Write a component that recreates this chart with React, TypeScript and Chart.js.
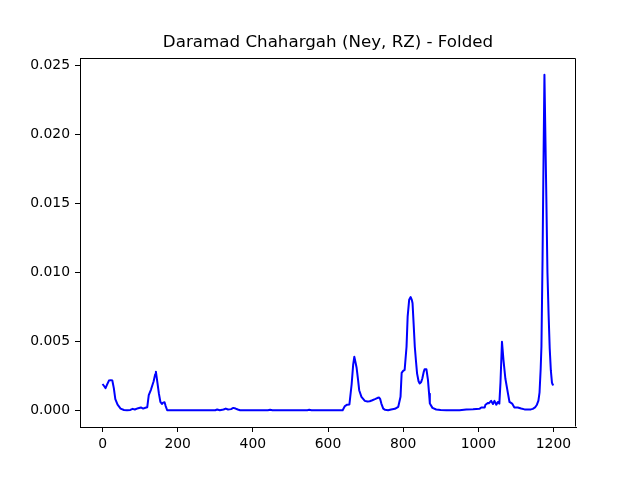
import React, { useEffect, useRef } from "react";
import { Chart, registerables } from "chart.js";

Chart.register(...registerables);

const TITLE = "Daramad Chahargah (Ney, RZ) - Folded";

const xValues: number[] = [
  0, 5, 8, 12, 17, 22, 26, 30, 34, 40, 48, 57, 65, 74, 80, 86, 95, 102, 108, 114, 119,
  123, 129, 136, 140, 142, 146, 150, 154, 158, 161, 165, 168, 172,
  200, 250, 300, 305, 312, 322, 328, 334, 342, 348, 354, 360, 366,
  400, 440, 446, 452, 500, 545, 550, 556, 600, 639,
  645, 651, 657, 663, 667, 670, 673, 676, 680, 683, 689, 698, 705, 711, 718, 725, 731, 736,
  739, 742, 747, 752, 760, 768, 778, 787, 793, 796, 800, 804, 809, 812, 816, 820, 823, 825,
  828, 831, 834, 837, 841, 844, 848, 851, 855, 857, 862, 866, 869, 871, 878, 888, 900, 915,
  930, 950, 968, 986, 1003, 1008, 1017, 1019, 1026, 1028, 1034, 1039, 1043, 1048, 1052, 1056,
  1059, 1063, 1067, 1072, 1079, 1083, 1090, 1096, 1105, 1114, 1123, 1132, 1140, 1145, 1151,
  1156, 1160, 1163, 1166, 1168, 1171, 1173, 1176, 1181, 1184, 1187, 1190, 1193, 1196,
  1198, 1200,
];

const yValues: number[] = [
  0.0019, 0.00172, 0.0016, 0.00185, 0.00215, 0.00218, 0.00215, 0.0016, 0.0008, 0.0004, 0.00012,
  0.00002, 0.0, 0.00002, 0.0001, 0.00005, 0.00015, 0.0002, 0.00012, 0.00018, 0.00022,
  0.0011, 0.0015, 0.0021, 0.0026, 0.00279, 0.002, 0.0012, 0.0006, 0.00045, 0.00055, 0.00058,
  0.0003, 0.0,
  0.0, 0.0, 0.0, 0.00005, 0.0, 0.00005, 0.00012, 0.00005, 0.00008, 0.00017, 0.00012, 0.00005,
  0.0,
  0.0, 0.0, 0.00003, 0.0, 0.0, 0.0, 0.00003, 0.0, 0.0, 0.0,
  0.0003, 0.0004, 0.00042, 0.0019, 0.0033, 0.00387, 0.0035, 0.0031, 0.0022, 0.00145, 0.00097,
  0.00068, 0.00063, 0.00065, 0.00072, 0.0008, 0.00088, 0.00092,
  0.0008, 0.00048, 0.00012, 0.00003, 0.0, 0.00005, 0.0001, 0.00025, 0.00097, 0.0027, 0.00285,
  0.00292, 0.0046, 0.0068, 0.008, 0.0082, 0.008, 0.00775,
  0.0062, 0.0046, 0.0036, 0.00267, 0.0021, 0.00194, 0.00205, 0.0023, 0.0028, 0.00296, 0.00296,
  0.0022, 0.0012, 0.00049, 0.00017, 0.00005, 0.00002, 0.0,
  0.0, 0.0, 0.00005, 0.00007, 0.0001, 0.0002, 0.0002, 0.0004, 0.00053, 0.0005, 0.00068,
  0.00045, 0.00068, 0.0004, 0.0006, 0.00048,
  0.002, 0.00496, 0.00363, 0.0023, 0.0012, 0.0006, 0.00048, 0.0002, 0.0002, 0.00012, 0.00006,
  0.00005, 0.00006, 0.0001, 0.0002,
  0.0004, 0.0007, 0.0013, 0.003, 0.0046, 0.011, 0.0167, 0.0243, 0.0155, 0.01, 0.007,
  0.0045, 0.0029, 0.002,
  0.00185, 0.0019,
];

const xTicks: number[] = [0, 200, 400, 600, 800, 1000, 1200];
const yTicks: number[] = [0, 0.005, 0.01, 0.015, 0.02, 0.025];

const FONT = "'DejaVu Sans', sans-serif";

const frame = {
  id: "frame",
  afterDraw(chart: any) {
    const { ctx, chartArea } = chart;
    const l = Math.round(chartArea.left) + 0.5;
    const t = Math.round(chartArea.top) + 0.5;
    const r = Math.round(chartArea.right) - 0.5;
    const b = Math.round(chartArea.bottom) - 0.5;
    ctx.save();
    ctx.strokeStyle = "#000";
    ctx.lineWidth = 1;
    ctx.beginPath();
    ctx.moveTo(l, t);
    ctx.lineTo(r, t);
    ctx.lineTo(r, b);
    ctx.stroke();
    ctx.restore();
  },
};

export default function App() {
  const ref = useRef<HTMLCanvasElement>(null);

  useEffect(() => {
    document.body.style.margin = "0";
    const chart = new Chart(ref.current as HTMLCanvasElement, {
      type: "line",
      data: {
        datasets: [
          {
            data: xValues.map((x, i) => ({ x, y: yValues[i] })),
            borderColor: "#0000ff",
            borderWidth: 2,
            borderJoinStyle: "round",
            borderCapStyle: "butt",
            pointRadius: 0,
            fill: false,
            tension: 0,
          },
        ],
      },
      options: {
        animation: false,
        responsive: false,
        devicePixelRatio: 1,
        layout: { padding: { left: 0, right: 64, top: 0, bottom: 0 }, autoPadding: false },
        plugins: {
          legend: { display: false },
          tooltip: { enabled: false },
          title: {
            display: true,
            text: TITLE,
            fullSize: false,
            color: "#000",
            font: { family: FONT, size: 16.7, weight: "normal" },
            padding: { top: 33, bottom: 5 },
          },
        },
        scales: {
          x: {
            type: "linear",
            min: -60,
            max: 1260,
            afterBuildTicks: (s: any) => {
              s.ticks = xTicks.map((v) => ({ value: v }));
            },
            afterFit: (s: any) => {
              s.height = 53;
            },
            grid: { display: true, drawOnChartArea: false, drawTicks: true, tickLength: 5, color: "#000" },
            border: { display: true, color: "#000" },
            ticks: {
              color: "#000",
              font: { family: FONT, size: 13.9 },
              padding: 4,
              maxRotation: 0,
              callback: (v: any) => String(v),
            },
          },
          y: {
            type: "linear",
            min: -0.001215,
            max: 0.025515,
            afterBuildTicks: (s: any) => {
              s.ticks = yTicks.map((v) => ({ value: v }));
            },
            afterFit: (s: any) => {
              s.width = 80;
            },
            grid: { display: true, drawOnChartArea: false, drawTicks: true, tickLength: 5, color: "#000" },
            border: { display: true, color: "#000" },
            ticks: {
              color: "#000",
              font: { family: FONT, size: 13.9 },
              padding: 5,
              callback: (v: any) => Number(v).toFixed(3),
            },
          },
        },
      },
      plugins: [frame],
    });
    return () => chart.destroy();
  }, []);

  return <canvas ref={ref} width={640} height={480} style={{ display: "block" }} />;
}
